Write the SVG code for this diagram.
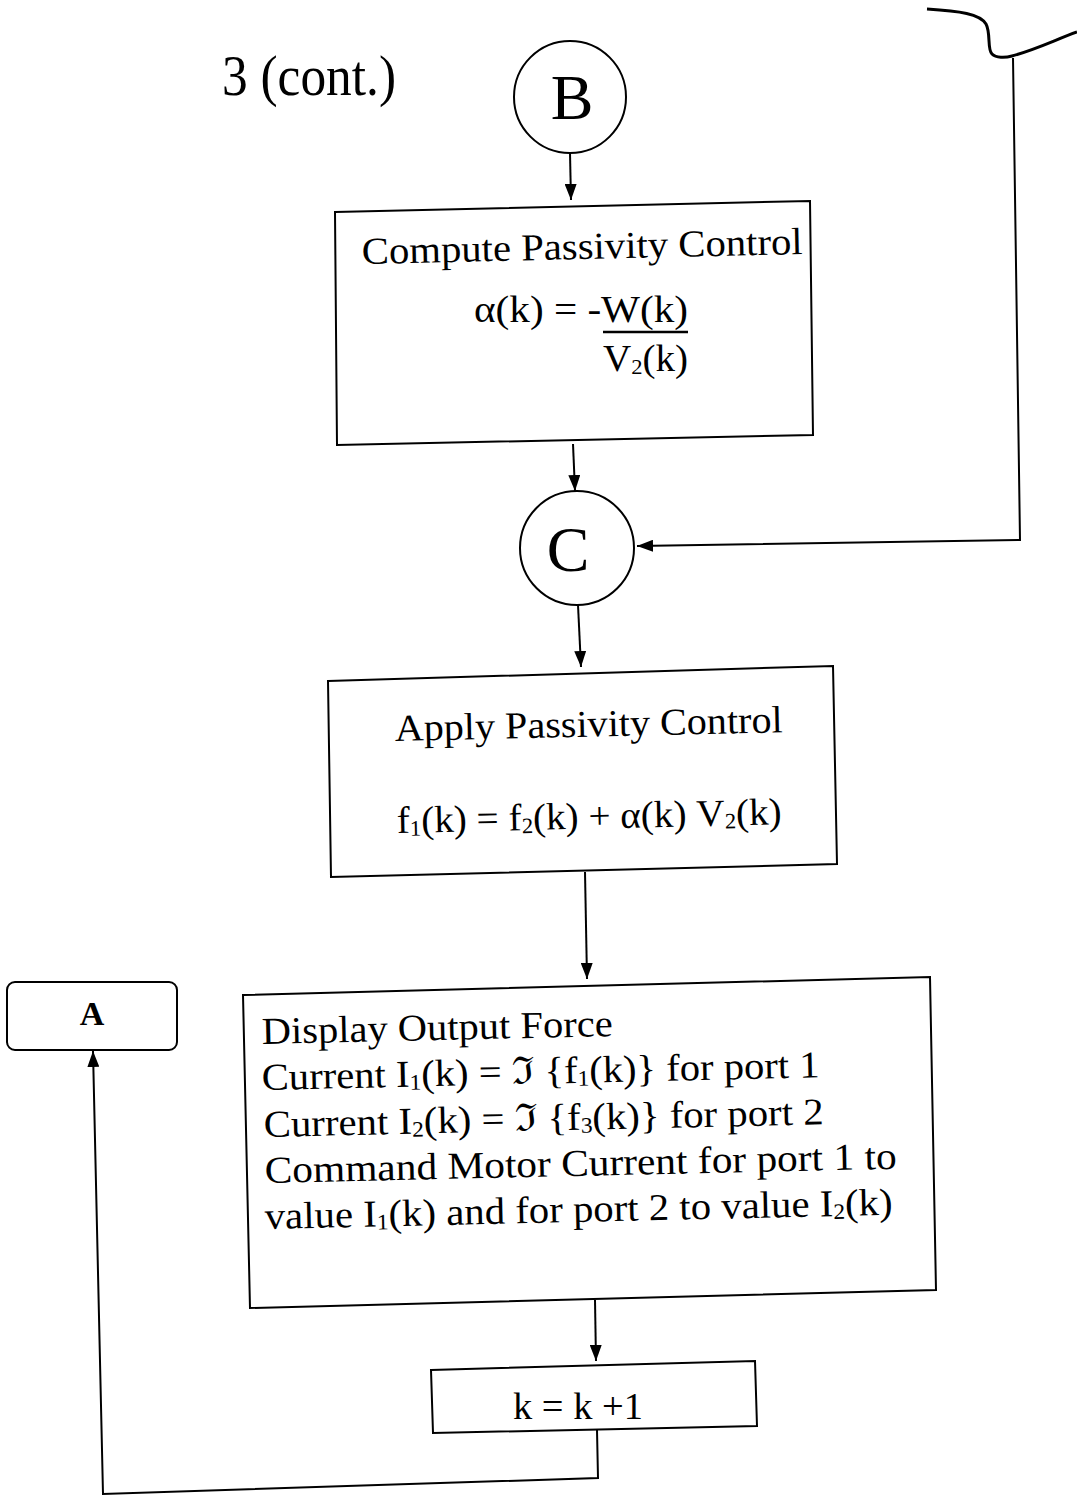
<svg xmlns="http://www.w3.org/2000/svg" width="1077" height="1496" viewBox="0 0 1077 1496">
<style>
.box{fill:none;stroke:#000;stroke-width:2}
.t{font-family:"Liberation Serif","Times New Roman",serif;fill:#000}
.m{font-size:38px}
.sub{font-size:22px}
.ln{fill:none;stroke:#000;stroke-width:2}
</style>
<defs>
<marker id="ah" viewBox="0 0 16 12" refX="16" refY="6" markerWidth="16" markerHeight="12" markerUnits="userSpaceOnUse" orient="auto">
<path d="M0,0 L16,6 L0,12 z" fill="#000"/>
</marker>
</defs>
<rect width="1077" height="1496" fill="#fff"/>
<text class="t" x="222" y="95" font-size="58" textLength="174" lengthAdjust="spacingAndGlyphs">3 (cont.)</text>

<g id="nodeB">
<circle cx="570" cy="97" r="56" class="box"/>
<text class="t" x="572" y="119" font-size="64" text-anchor="middle">B</text>
</g>

<g id="compute">
<polygon class="box" points="335,212 810,201 813,435 337,445"/>
<text class="t m" x="362" y="264" textLength="441" lengthAdjust="spacingAndGlyphs" transform="rotate(-1.3 362 264)">Compute Passivity Control</text>
<text class="t m" x="474" y="322" textLength="214" lengthAdjust="spacingAndGlyphs">α(k) = -W(k)</text>
<line x1="603" y1="332" x2="688" y2="332" stroke="#000" stroke-width="2.5"/>
<text class="t m" x="603" y="371" textLength="85" lengthAdjust="spacingAndGlyphs">V<tspan class="sub" dy="3">2</tspan><tspan dy="-3">(k)</tspan></text>
</g>

<g id="nodeC">
<circle cx="577" cy="548" r="57" class="box"/>
<text class="t" x="568" y="571" font-size="64" text-anchor="middle">C</text>
</g>

<g id="apply">
<polygon class="box" points="328,681 833,666 837,864 331,877"/>
<text class="t m" x="395" y="741" textLength="388" lengthAdjust="spacingAndGlyphs" transform="rotate(-1.3 395 741)">Apply Passivity Control</text>
<text class="t m" x="397" y="833" textLength="385" lengthAdjust="spacingAndGlyphs" transform="rotate(-1.3 397 833)">f<tspan class="sub" dy="3">1</tspan><tspan dy="-3">(k) = f</tspan><tspan class="sub" dy="3">2</tspan><tspan dy="-3">(k) + α(k) V</tspan><tspan class="sub" dy="3">2</tspan><tspan dy="-3">(k)</tspan></text>
</g>

<g id="display">
<polygon class="box" points="243,995 930,977 936,1290 250,1308"/>
<text class="t m" x="262" y="1044" textLength="351" lengthAdjust="spacingAndGlyphs" transform="rotate(-1.3 262 1044)">Display Output Force</text>
<text class="t m" x="262" y="1090" textLength="558" lengthAdjust="spacingAndGlyphs" transform="rotate(-1.3 262 1090)">Current I<tspan class="sub" dy="3">1</tspan><tspan dy="-3">(k) = ℑ {f</tspan><tspan class="sub" dy="3">1</tspan><tspan dy="-3">(k)} for port 1</tspan></text>
<text class="t m" x="264" y="1137" textLength="560" lengthAdjust="spacingAndGlyphs" transform="rotate(-1.3 264 1137)">Current I<tspan class="sub" dy="3">2</tspan><tspan dy="-3">(k) = ℑ {f</tspan><tspan class="sub" dy="3">3</tspan><tspan dy="-3">(k)} for port 2</tspan></text>
<text class="t m" x="265" y="1183" textLength="632" lengthAdjust="spacingAndGlyphs" transform="rotate(-1.3 265 1183)">Command Motor Current for port 1 to</text>
<text class="t m" x="265" y="1229" textLength="628" lengthAdjust="spacingAndGlyphs" transform="rotate(-1.3 265 1229)">value I<tspan class="sub" dy="3">1</tspan><tspan dy="-3">(k) and for port 2 to value I</tspan><tspan class="sub" dy="3">2</tspan><tspan dy="-3">(k)</tspan></text>
</g>

<g id="incr">
<polygon class="box" points="431,1370 755,1361 757,1426 433,1433"/>
<text class="t m" x="513" y="1419" textLength="130" lengthAdjust="spacingAndGlyphs">k = k +1</text>
</g>

<g id="nodeA">
<rect x="7" y="982" width="170" height="68" rx="8" class="box"/>
<text class="t" x="92" y="1025" font-size="34" font-weight="bold" text-anchor="middle">A</text>
</g>

<g id="connectors">
<path class="ln" d="M570,153 L571,200" marker-end="url(#ah)"/>
<path class="ln" d="M573,444 L575,491" marker-end="url(#ah)"/>
<path class="ln" d="M578,605 L581,667" marker-end="url(#ah)"/>
<path class="ln" d="M585,872 L587,979" marker-end="url(#ah)"/>
<path class="ln" d="M595,1300 L596,1361" marker-end="url(#ah)"/>
<path class="ln" d="M597,1430 L598,1478 L103,1494 L93,1051" marker-end="url(#ah)"/>
<path class="ln" d="M1013,58 L1020,540 L637,546" marker-end="url(#ah)"/>
<path d="M927,9 C960,11 980,14 986,24 C991,33 987,50 992,54 C996,58 1005,58 1012,56 C1035,50 1055,40 1077,32" fill="none" stroke="#000" stroke-width="3"/>
</g>
</svg>
